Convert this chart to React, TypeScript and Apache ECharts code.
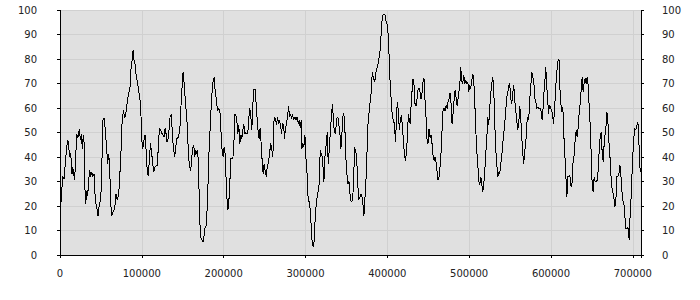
import React, { useEffect, useRef } from "react";
import * as echarts from "echarts";

// x positions in thousands, y values (0-100)
const seg1X = [0,1.2,3.3,4.9,6.1,8.2,9.4,10.6,11.4,12.6,13.9,14.7,15.5,16.7,17.9,19.2,20.4,22.0,23.6,24.9,26.1,27.3,28.5,29.8,30.6,31.4,32.6,33.8,35.1,36.3,37.5,38.7,40.0,41.6,43.2,44.8,46.5,48.1,49.7,51.0,52.2,53.8,55.4,57.1,58.3,59.5,60.7,62.0,63.2,65.2,66.9,68.5,70.1,71.8,73.4,74.6,75.8,77.5,79.1,80.7,82.4,84.0,85.6,86.8,88.1,89.3,90.5,91.7,93.0,94.6,96.2,97.8,99.1,99.9,101.1,102.7,104.0,105.2,106.8,108.0,109.3,110.5,111.7,113.3,114.6,116.2,119.0,120.3,121.5,123.1,124.8,126.0,127.2,128.4,129.6,130.9,132.5,134.5,136.2,137.4,139.0,140.2,141.5,142.7,144.7,146.4,148.0,149.2,150.4,151.3,152.5,154.1,155.7,157.0,158.6,159.8,161.0,162.3,163.5,164.7,165.9,167.2,168.4,169.6,170.8,172.0,173.7,175.3,176.9,178.6,180.2,181.8,183.5,185.1,186.7,188.4,189.6,191.2,192.4,194.1];
const seg1Y = [19.5,21.6,32,31,36,44,47,46,40,41.4,38.6,33,36,33,30.5,40,49.5,48,51.6,47,49.5,43.4,48.9,44.8,25.7,21,26,24.3,30.5,34.5,32,34,32,33,22,19.5,16,21,22,33,55,56,51,42.7,37.3,41.4,36,21,16,18,19,25,22.3,25,34.5,42.7,53.6,59,56,58.4,63,66,68.6,76,79.6,83.6,79.6,78,73.4,70.7,67,63,56,47,43.4,47,49,42.7,33,32.5,39.3,45.5,42.7,37.3,34,36,36.6,45.5,51.6,51,49.5,48.9,48,51.6,49.5,46,48,56.4,57.7,48,42.7,40,44,47.5,48,51,61.8,68.6,74.8,72,66,59,52,40,36,34.5,40,44,44.8,40,42.7,41.4,42.7,30.5,14,7.3,6,5.2,10.7,12,21,40,52,63,70,72.7,67,63,59,59.8];

const seg2X = [195.7,197.7,199.4,200.6,201.8,203.0,204.3,205.1,206.3,207.5,208.7,211.2,212.4,213.6,214.9,216.1,217.3,218.5,219.8,221.0,222.2,223.4,224.6,225.9,227.1,228.3,229.5,230.8,232.0,233.2,234.4,235.7,236.9,238.5,239.7,241.0,242.2,243.4,244.6,245.8,247.1,248.3,249.5,250.7,252.0,253.2,254.4,256.0,257.3,258.5,260.1,261.7,263.4,264.6,265.8,267.0,268.3,269.5,270.7,271.9,273.2,274.4,275.6,276.8,278.1,279.3,280.5,281.7,282.9,284.2,285.4,287.0,288.7,289.9,291.1,292.3,293.5,294.8,295.6,296.8,298.0,299.3,300.5,302.1,303.3,305.0,306.6,308.2,309.5,310.7,311.9,313.5,315.2,316.8,318.0,319.2,320.5,321.7,322.5,323.7,325.4,326.6,327.8,329.0,330.2,331.9,333.1,334.3,335.5,336.8,338.0,339.6,340.8,342.1,343.3,344.5,345.7,346.9,348.2,349.4,350.6,351.9,353.1,354.7,355.9,357.6,358.8,360.0,361.2,362.5,363.7,364.9,366.5,368.2,369.4,370.6,371.4,372.6,373.9,375.1,376.3,377.9,379.2,380.4,381.6,382.8,384.1,385.3,386.5,388.1,389.8,391.4];
const seg2Y = [57.7,44,40,44,41.4,30.5,21.6,18.2,21.6,29,39.3,39.3,44,57.7,57,55,49.5,53,45.5,49,47.5,51,53.6,49.5,50,49.5,49.5,56.4,59.8,56.4,51,61.8,67.5,67.5,61.8,55,50,47.5,52,45.5,38,33,37.3,34.5,32,36,37.3,40.7,45.5,44,40,56.4,55.7,53,56.4,53.6,55,53,49.5,53.6,53,47.5,52,53.6,56.4,61,56.4,57.7,55.7,57.7,55,56.4,55,56.4,53.6,55,52,55,43.4,45.5,44,49,40,32.5,22.3,21.6,14,4.6,3.2,6,15.4,22.3,25.7,29,42.7,41.4,40,34.5,29.8,40,45.5,50,37.3,42.7,49.5,57.7,61.8,53.6,50,49.5,55.7,56.4,53,49.5,43.4,49.5,56.4,57.7,51,39.3,33,29,30,23.6,21.6,22.3,30.5,44,42.7,40,30.5,22.3,23.6,25,23,19.5,16,23,30.5,41.4,53,59,63,67,74.8,72.7,70.7,72,75.5,76.8,80.2,84.3];

const seg3X = [392.7,393.9,395.5,397.1,398.8,400.0,401.2,402.4,403.7,404.9,406.1,407.3,408.6,409.4,410.2,411.0,412.2,413.4,414.7,415.9,417.1,418.3,419.6,420.8,422.0,423.2,424.5,425.7,426.9,428.1,429.3,430.6,431.4,432.6,433.8,435.1,436.3,437.5,438.7,440.0,441.2,442.4,443.6,444.8,446.1,447.3,448.5,449.7,451.0,452.2,453.4,454.6,455.9,457.1,458.3,459.5,460.7,462.0,463.2,464.4,465.6,466.9,468.1,469.3,470.5,471.8,473.0,474.2,475.4,476.6,477.9,479.1,480.3,481.5,482.8,484.0,485.2,486.4,487.7,488.9,489.7,490.9,492.1,493.4,494.6,495.8,497.0,498.3,499.5,500.7,501.9,503.1,504.4,505.6,506.8,508.0,509.3,510.5,511.7,512.9,514.2,515.4,516.6,517.8,519.1,520.3,521.5,522.7,523.9,525.2,526.4,527.6,528.8,530.1,531.3,532.5,533.7,535.0,536.2,537.4,538.6,539.8,541.1,542.3,543.5,544.7,546.0,547.2,548.4,549.6,550.8,552.1,553.3,554.5,555.7,557.0,558.2,559.4,560.6,561.8,563.1,564.3,565.5,566.7,568.0,569.2,570.4,571.6,572.8,574.1,575.3,576.5,577.7,579.0,580.2,581.4,582.6,583.9,585.5,587.1];
const seg3Y = [91.8,97.3,98.4,98,94.5,94,89,79.6,67.3,63,56.4,55,53.6,49.5,46,55,62.5,59,51,55,57,53,46.8,41.4,38.6,41.4,48,57.7,55,53.6,63,68.6,72,69.3,61.8,61,63.8,67.3,68,66.6,63.8,66,70.7,72,63,56.4,47.5,45.5,51.6,48,49,45.5,40.7,38.6,40,38,34.5,30.5,32,36,41.4,51,59,59.8,59,61,59.8,62.5,63.8,66,61.8,53.6,57.7,63,67.3,64.5,61,63.8,67.3,71.4,76.8,70.7,70,73.4,70,71.4,70,70.7,66.6,69.3,68,70.7,74,71.4,63,52,42.7,37.3,30.5,28.4,32,29,25.7,29,34,41.4,46.8,56.4,53,60.4,66,70,72.7,67.3,53.6,43.4,37.3,32,34,33,37.3,40,45.5,49.5,53.6,59,64.5,66,69.3,70,63.8,61.8,66,69.3,63,59,55,51,53.6,61,55.7,48,41.4,37.3,42.7,45.5,53.6,56.4,55,63.8,68.6,74.8,72.7,70.7,63.8,63,59.8,60.4,59.8,60];

const seg4X = [588.4,589.2,590.4,591.6,592.9,593.7,594.5,595.7,596.9,598.2,599.4,600.6,601.8,603.0,604.3,605.5,606.7,607.9,608.8,610.0,610.8,612.0,613.2,614.5,615.7,616.9,618.1,619.4,620.6,621.8,623.0,624.3,625.5,626.7,627.9,629.1,630.0,630.8,632.0,633.2,634.4,635.7,636.9,638.1,639.3,640.6,641.8,643.0,644.2,645.4,646.7,647.9,649.1,650.3,651.6,652.8,654.0,655.2,656.5,657.7,658.9,660.1,661.4,662.6,663.8,665.0,666.2,667.5,668.3,669.5,670.7,671.9,673.2,674.4,675.6,676.8,678.1,679.3,680.5,681.7,683.0,684.2,685.4,686.6,687.9,689.1,690.3,691.5,692.7,694.0,694.8,695.6,696.4,697.6,698.9,700.1,701.3,702.5,703.7,705.0,706.2,707.0,708.2,709.0];
const seg4Y = [57.7,55,60.4,67.3,72.7,76.8,68.6,66,57.7,61,60.4,59,57.7,53.6,58.4,67.3,72.7,78,79.8,79.6,68.6,61.8,58.4,60.4,48.9,41.4,33,23.6,32,32,32.5,28.4,27.7,37.3,39.3,45.5,48,51,48,52,57.7,61.8,67.3,72.7,66.6,70.7,72,70,72.7,69.3,60.4,53,41.4,29,25.7,32,30,30,30.5,34.5,42.7,48,50,41.4,38,45.5,49.5,53.6,58.4,55,46.8,41.4,33,27.7,25.7,23.6,19.5,22.3,32,32,33,36.6,33,26.3,22.3,21,16,10.7,10.7,11.4,8.7,6,14,21,32,41.4,48,51.6,51,53,54.3,49.5,40,34];

const xTicks = [0, 100000, 200000, 300000, 400000, 500000, 600000, 700000];
const yTicks = [0, 10, 20, 30, 40, 50, 60, 70, 80, 90, 100];

const FONT = "DejaVu Sans";

export default function App() {
  const ref = useRef<HTMLDivElement>(null);
  useEffect(() => {
    if (!ref.current) return;
    const chart = echarts.init(ref.current, null, { renderer: "svg" });
    const xs = [...seg1X, ...seg2X, ...seg3X, ...seg4X];
    const ys = [...seg1Y, ...seg2Y, ...seg3Y, ...seg4Y];
    const data = xs.map((x, i) => [x * 1000, ys[i]]);
    const yAxisBase = (pos: "left" | "right", margin: number, split: boolean) => ({
      type: "value",
      position: pos,
      min: yTicks[0],
      max: yTicks[yTicks.length - 1],
      interval: 10,
      axisLine: { show: true, lineStyle: { color: "#000", width: 1 } },
      axisTick: { show: true, length: 3, lineStyle: { color: "#000" } },
      axisLabel: { margin, color: "#222", fontFamily: FONT, fontSize: 10 },
      splitLine: { show: split, lineStyle: { color: "#d0d0d0", width: 1 } },
    });
    chart.setOption({
      animation: false,
      backgroundColor: "#fff",
      grid: {
        left: 60,
        right: 59,
        top: 10,
        bottom: 45,
        show: true,
        backgroundColor: "#e0e0e0",
        borderColor: "#000",
        borderWidth: 1,
      },
      xAxis: {
        type: "value",
        min: xTicks[0],
        max: 710000,
        interval: 100000,
        axisLine: { show: true, onZero: false, lineStyle: { color: "#000", width: 1 } },
        axisTick: { show: true, length: 3, lineStyle: { color: "#000" } },
        axisLabel: {
          margin: 13,
          color: "#222",
          fontFamily: FONT,
          fontSize: 10,
          formatter: (v: number) => (xTicks.includes(v) ? String(v) : ""),
        },
        splitLine: { show: true, lineStyle: { color: "#d0d0d0", width: 1 } },
      },
      yAxis: [yAxisBase("left", 23, true), yAxisBase("right", 21, false)],
      series: [
        {
          type: "line",
          data,
          showSymbol: false,
          symbol: "none",
          lineStyle: { color: "#000", width: 1 },
          itemStyle: { color: "#000" },
        },
      ],
    });
    return () => chart.dispose();
  }, []);
  return (
    <>
      <style>{"#chart-root svg path { shape-rendering: crispEdges; }"}</style>
      <div
        id="chart-root"
        ref={ref}
        style={{ position: "fixed", left: 0, top: 0, width: 700, height: 300, background: "#fff" }}
      />
    </>
  );
}
